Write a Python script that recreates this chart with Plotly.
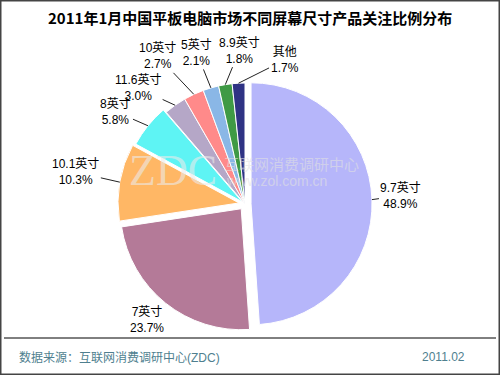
import math
import plotly.graph_objects as go

# ---- data ----
labels = ["9.7英寸", "7英寸", "10.1英寸", "8英寸", "11.6英寸", "10英寸", "5英寸", "8.9英寸", "其他"]
values = [48.9, 23.7, 10.3, 5.8, 3.0, 2.7, 2.1, 1.8, 1.7]
colors = ["#b6b6fa", "#b47a98", "#ffb765", "#5ef4f4", "#b5a7c7", "#ff8a8a", "#8ab7e6", "#3f9a45", "#2f3384"]
pulls = [0.05, 0.05, 0.05, 0.03, 0, 0, 0, 0, 0]
# label offsets (px) from slice edge: (dx, dy_down, show leader)
label_off = [(29, -4, True), (-19, 17, False), (-44, -10, True), (-32, -14, True),
             (-37, -17, True), (-36, -38, True), (-14, -35, True), (14, -34, True), (46, -23, True)]

title = "2011年1月中国平板电脑市场不同屏幕尺寸产品关注比例分布"
source = "数据来源：互联网消费调研中心(ZDC)"
date = "2011.02"

W, H = 500, 375
CX, CY = 245, 204          # pie centre in px (from top)
R = 121                    # radius in px
maxpull = max(pulls)
box = R * (2 + 2 * maxpull)

FONT = "Liberation Sans, Arial, Noto Sans CJK SC, sans-serif"

fig = go.Figure()
fig.add_trace(go.Pie(
    labels=labels, values=values, sort=False, direction="clockwise", rotation=0,
    pull=pulls, textinfo="none", hoverinfo="label+percent",
    marker=dict(colors=colors, line=dict(color="white", width=1)),
    domain=dict(x=[0.1, 0.88], y=[1 - (CY + box / 2) / H, 1 - (CY - box / 2) / H]),
    showlegend=False,
))

annotations = []
total = sum(values)
cum = 0.0
for lab, v, p, off in zip(labels, values, pulls, label_off):
    mid = (cum + v / 2) / total * 2 * math.pi
    cum += v
    rr = R * (1 + p)
    px = CX + rr * math.sin(mid)
    py = CY - rr * math.cos(mid)
    dx, dy, show = off
    txt = f"{lab}<br>{v:.1f}%"
    if show:
        annotations.append(dict(
            x=px / W, y=1 - py / H, xref="paper", yref="paper",
            ax=dx, ay=dy, axref="pixel", ayref="pixel",
            text=txt, showarrow=True, arrowhead=0, arrowwidth=1, arrowcolor="#222",
            font=dict(family=FONT, size=12, color="#000"), align="center",
        ))
    else:
        annotations.append(dict(
            x=(px + dx) / W, y=1 - (py + dy) / H, xref="paper", yref="paper",
            text=txt, showarrow=False, xanchor="center", yanchor="middle",
            font=dict(family=FONT, size=12, color="#000"), align="center",
        ))

# title
annotations.append(dict(x=0.5, y=1 - 17 / H, xref="paper", yref="paper", text=f"<b>{title}</b>",
                        showarrow=False, xanchor="center", yanchor="middle",
                        font=dict(family="Noto Sans CJK SC, sans-serif", size=15, color="#000")))
# watermark
annotations.append(dict(x=173 / W, y=1 - 170 / H, xref="paper", yref="paper", text="ZDC",
                        showarrow=False, xanchor="center", yanchor="middle",
                        font=dict(family="Liberation Serif, DejaVu Serif, serif", size=44,
                                  color="rgba(235,235,235,0.6)")))
annotations.append(dict(x=222 / W, y=1 - 163 / H, xref="paper", yref="paper", text="互联网消费调研中心",
                        showarrow=False, xanchor="left", yanchor="middle",
                        font=dict(family="Noto Sans CJK SC, sans-serif", size=15,
                                  color="rgba(225,225,225,0.6)")))
annotations.append(dict(x=224 / W, y=1 - 181 / H, xref="paper", yref="paper", text="www.zol.com.cn",
                        showarrow=False, xanchor="left", yanchor="middle",
                        font=dict(family="Liberation Sans, sans-serif", size=14,
                                  color="rgba(225,225,225,0.6)")))
# footer
annotations.append(dict(x=17 / W, y=1 - 357 / H, xref="paper", yref="paper", text=source,
                        showarrow=False, xanchor="left", yanchor="middle",
                        font=dict(family=FONT, size=12, color="#4f7f8f")))
annotations.append(dict(x=467 / W, y=1 - 357 / H, xref="paper", yref="paper", text=date,
                        showarrow=False, xanchor="right", yanchor="middle",
                        font=dict(family=FONT, size=12, color="#4f7f8f")))

shapes = [
    dict(type="line", xref="paper", yref="paper", x0=4 / W, x1=496 / W, y0=1 - 338 / H, y1=1 - 338 / H,
         line=dict(color="#000", width=1)),
    dict(type="rect", xref="paper", yref="paper", x0=0, x1=1, y0=0, y1=1,
         line=dict(color="#444", width=3)),
]

fig.update_layout(
    width=W, height=H, margin=dict(l=0, r=0, t=0, b=0),
    paper_bgcolor="white", plot_bgcolor="white",
    annotations=annotations, shapes=shapes,
)
fig.write_html("out.html", config={"displayModeBar": False},
               post_script="document.body.style.margin='0';document.body.style.overflow='hidden';")
